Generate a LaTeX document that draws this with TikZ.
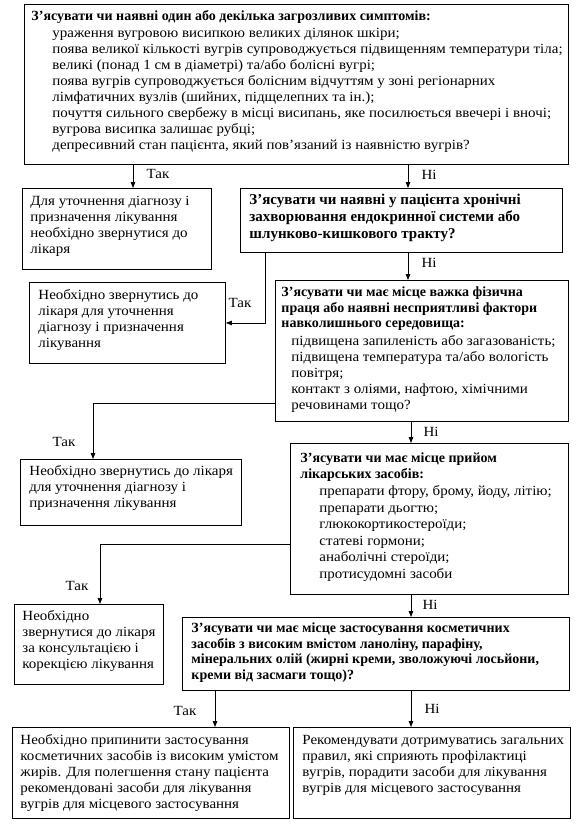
\documentclass[tikz,border=0pt]{standalone}
\usepackage{fontspec}
\setmainfont{Liberation Serif}[FakeStretch=1.07]
\newfontfamily\bfam{Liberation Serif}
\usetikzlibrary{arrows.meta}
% #1 width, #2 height, #3 left pad, #4 top pad, #5 content
\newcommand\bt[5]{\parbox[b][#2pt][t]{#1pt}{\vspace*{#4pt}\hspace*{#3pt}\parbox[t]{\dimexpr#1pt-#3pt-2pt\relax}{\raggedright\fontsize{14}{16}\selectfont\leavevmode\rule{0pt}{10pt}#5}}}
\newcommand\hd[1]{{\bfam\bfseries\fontsize{14}{15.7}\selectfont #1\par}\vspace{1.2pt}}
\newcommand\hdb[1]{{\bfam\bfseries\fontsize{15}{17}\selectfont #1\par}}
\newcommand\its[3]{{\leftskip=#1pt\fontsize{14}{#2}\selectfont #3\par}}
\tikzset{
  bx/.style={draw, line width=0.9pt, anchor=north west, inner sep=0pt},
  arr/.style={line width=0.8pt, -{Triangle[length=6pt,width=4.5pt]}},
  lbl/.style={inner sep=0pt, font=\fontsize{14}{15}\selectfont}
}
\begin{document}
\begin{tikzpicture}[x=1pt,y=-1pt]
\useasboundingbox (0,0) rectangle (588,832);
% boxes
\node[bx] (T) at (24,4) {\bt{544}{160}{7}{6}{\hd{З’ясувати чи наявні один або декілька загрозливих симптомів:}\its{21}{16}{ураження вугровою висипкою великих ділянок шкіри;\\
поява великої кількості вугрів супроводжується підвищенням температури тіла;\\
великі (понад 1 см в діаметрі) та/або болісні вугрі;\\
поява вугрів супроводжується болісним відчуттям у зоні регіонарних\\
лімфатичних вузлів (шийних, підщелепних та ін.);\\
почуття сильного свербежу в місці висипань, яке посилюється ввечері і вночі;\\
вугрова висипка залишає рубці;\\
депресивний стан пацієнта, який пов’язаний із наявністю вугрів?}}};
\node[bx] (A) at (22,188) {\bt{189}{81}{8}{7}{Для уточнення діагнозу і\\призначення лікування\\необхідно звернутися до\\лікаря}};
\node[bx] (B) at (240,188) {\bt{322}{64}{9}{6}{\hdb{З’ясувати чи наявні у пацієнта хронічні\\захворювання ендокринної системи або\\шлунково-кишкового тракту?}}};
\node[bx] (C) at (29,282) {\bt{196}{81}{9}{7}{Необхідно звернутись до\\лікаря для уточнення\\діагнозу і призначення\\лікування}};
\node[bx] (D) at (275,280) {\bt{293}{141}{6}{6}{\hd{З’ясувати чи має місце важка фізична\\праця або наявні несприятливі фактори\\навколишнього середовища:}\its{10}{16}{підвищена запиленість або загазованість;\\підвищена температура та/або вологість\\повітря;\\контакт з оліями, нафтою, хімічними\\речовинами тощо?}}};
\node[bx] (G) at (20,459) {\bt{221}{66}{9}{6}{Необхідно звернутись до лікаря\\для уточнення діагнозу і\\призначення лікування}};
\node[bx] (E) at (290,443) {\bt{278}{151}{10}{9}{\hd{З’ясувати чи має місце прийом\\лікарських засобів:}\its{19}{16.5}{препарати фтору, брому, йоду, літію;\\препарати дьогтю;\\глюкокортикостероїди;\\статеві гормони;\\анаболічні стероїди;\\протисудомні засоби}}};
\node[bx] (I) at (14,604) {\bt{149}{80}{8}{6}{Необхідно\\звернутися до лікаря\\за консультацією і\\корекцією лікування}};
\node[bx] (F) at (182,617) {\bt{387}{73}{9}{5}{\hd{З’ясувати чи має місце застосування косметичних\\засобів з високим вмістом ланоліну, парафіну,\\мінеральних олій (жирні креми, зволожуючі лосьйони,\\креми від засмаги тощо)?}}};
\node[bx] (J) at (12,727) {\bt{277}{91}{8}{7}{Необхідно припинити застосування\\косметичних засобів із високим умістом\\жирів. Для полегшення стану пацієнта\\рекомендовані засоби для лікування\\вугрів для місцевого застосування}};
\node[bx] (H) at (293,727) {\bt{277}{91}{9}{7}{Рекомендувати дотримуватись загальних\\правил, які сприяють профілактиці\\вугрів, порадити засоби для лікування\\вугрів для місцевого застосування}};
% x / y guide coordinates
\coordinate (x1) at (133,0);
\coordinate (x2) at (408,0);
\coordinate (x3) at (265,0);
\coordinate (x4) at (93,0);
\coordinate (y4) at (0,403.5);
\coordinate (x5) at (411,0);
\coordinate (x6) at (100,0);
\coordinate (y6) at (0,544);
\coordinate (x7) at (215,0);
% connectors
\draw[arr] (T.south -| x1) -- (A.north -| x1);
\draw[arr] (T.south -| x2) -- (B.north -| x2);
\draw[arr] (B.south -| x2) -- (D.north -| x2);
\draw[arr] (B.south -| x3) |- (C.east);
\draw[arr] (D.west |- y4) -| (G.north -| x4);
\draw[arr] (D.south -| x5) -- (E.north -| x5);
\draw[arr] (E.west |- y6) -| (I.north -| x6);
\draw[arr] (E.south -| x5) -- (F.north -| x5);
\draw[arr] (F.south -| x7) -- (J.north -| x7);
\draw[arr] (F.south -| x5) -- (H.north -| x5);
% labels
\node[lbl] (l1) at (158,174) {Так};
\node[lbl] (l2) at (429,175) {Ні};
\node[lbl] (l3) at (429,263) {Ні};
\node[lbl] (l4) at (240,303) {Так};
\node[lbl] (l5) at (64,442) {Так};
\node[lbl] (l6) at (431,432) {Ні};
\node[lbl] (l7) at (77,586) {Так};
\node[lbl] (l8) at (430,605) {Ні};
\node[lbl] (l9) at (185,711) {Так};
\node[lbl] (l10) at (432,709) {Ні};
\end{tikzpicture}
\end{document}
